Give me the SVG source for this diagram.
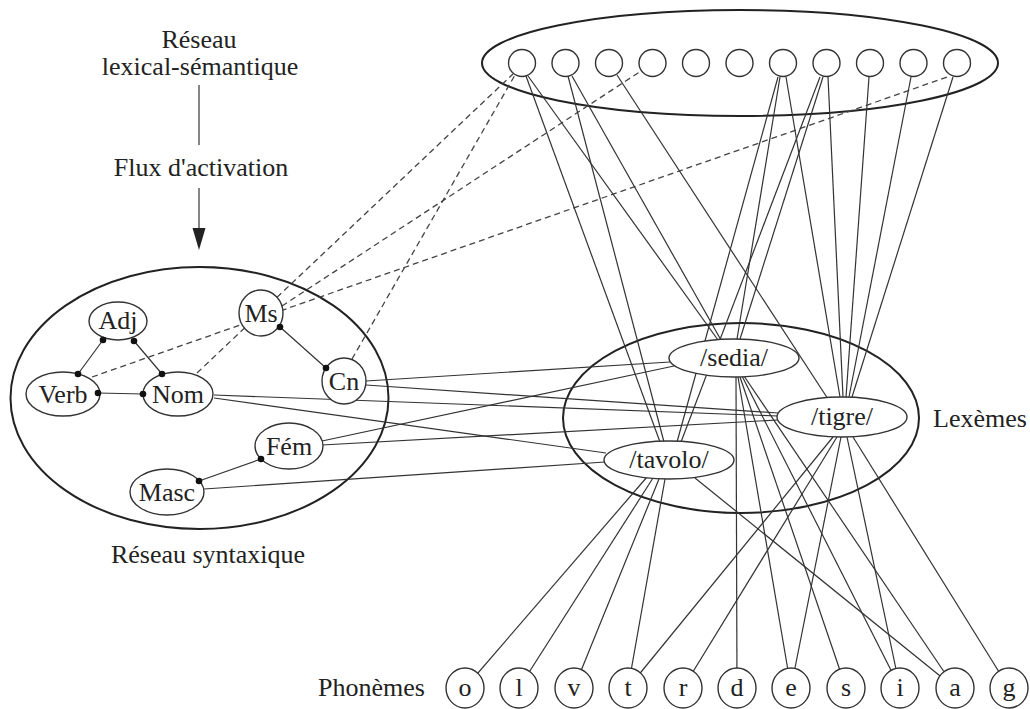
<svg xmlns="http://www.w3.org/2000/svg" width="1030" height="709" viewBox="0 0 1030 709">
<defs>
<style>
.ln{stroke:#333;stroke-width:1.2;fill:none}
.dash{stroke:#444;stroke-width:1.3;stroke-dasharray:6 4;fill:none}
.big{fill:none;stroke:#222;stroke-width:2}
.node{fill:#fff;stroke:#333;stroke-width:1.4}
.t{font-family:"Liberation Serif","Times New Roman",serif;font-size:26px;fill:#222;text-anchor:middle}
.dot{fill:#111}
</style>
</defs>
<rect width="1030" height="709" fill="#fff"/>

<g id="labels">
<text class="t" x="199" y="48">Réseau</text>
<text class="t" x="200" y="75">lexical-sémantique</text>
<line x1="199" y1="85" x2="199" y2="145" class="ln"/>
<text class="t" x="201" y="176">Flux d'activation</text>
<line x1="199" y1="188" x2="199" y2="229" class="ln"/>
<path d="M192.5,228 L205.5,228 L199,250 Z" fill="#222"/>
<text class="t" x="208" y="563">Réseau syntaxique</text>
<text class="t" x="933" y="427" style="text-anchor:start">Lexèmes</text>
<text class="t" x="318" y="696" style="text-anchor:start">Phonèmes</text>
</g>

<g id="containers">
<ellipse class="big" cx="740" cy="63" rx="258" ry="53"/>
<ellipse class="big" cx="199.5" cy="398" rx="189" ry="131"/>
<ellipse class="big" cx="741" cy="418" rx="178" ry="95"/>
</g>

<g id="connectors">
<path class="ln" d="M103,340 L78,374"/>
<path class="ln" d="M134,341 L162,374"/>
<path class="ln" d="M98,393 L143,394"/>
<path class="ln" d="M280,327 L326,368"/>
<path class="ln" d="M261,459 L199,481"/>
<path class="dash" d="M197,373 L513,74"/>
<path class="dash" d="M92,377 L950,76"/>
<path class="dash" d="M282,306 L641,71"/>
<path class="dash" d="M352,359 L515,75"/>
<path class="ln" d="M366,381 L670,362"/>
<path class="ln" d="M366,385 L778,413"/>
<path class="ln" d="M214,395 L778,416"/>
<path class="ln" d="M214,398 L606,453"/>
<path class="ln" d="M322,441 L674,366"/>
<path class="ln" d="M322,445 L778,420"/>
<path class="ln" d="M204,489 L605,462"/>
<path class="ln" d="M528,76 L718,340"/>
<path class="ln" d="M526,76 L660,442"/>
<path class="ln" d="M572,76 L721,340"/>
<path class="ln" d="M568,76 L664,442"/>
<path class="ln" d="M617,75 L828,399"/>
<path class="ln" d="M780,77 L737,339"/>
<path class="ln" d="M778,77 L677,442"/>
<path class="ln" d="M786,77 L840,397"/>
<path class="ln" d="M823,77 L740,339"/>
<path class="ln" d="M820,77 L681,442"/>
<path class="ln" d="M828,77 L843,397"/>
<path class="ln" d="M869,77 L846,397"/>
<path class="ln" d="M911,77 L849,397"/>
<path class="ln" d="M953,77 L852,397"/>
<path class="ln" d="M647,477 L465,688"/>
<path class="ln" d="M653,478 L519,688"/>
<path class="ln" d="M659,479 L574,688"/>
<path class="ln" d="M665,479 L628,688"/>
<path class="ln" d="M695,478 L955,688"/>
<path class="ln" d="M736,377 L737,688"/>
<path class="ln" d="M738,377 L791,688"/>
<path class="ln" d="M740,377 L846,688"/>
<path class="ln" d="M742,376 L900,688"/>
<path class="ln" d="M744,376 L955,688"/>
<path class="ln" d="M833,437 L628,688"/>
<path class="ln" d="M837,437 L683,688"/>
<path class="ln" d="M841,437 L791,688"/>
<path class="ln" d="M847,437 L900,688"/>
<path class="ln" d="M853,437 L1009,688"/>
</g>

<g id="semantic">
<circle class="node" cx="522" cy="63" r="13.5"/>
<circle class="node" cx="565.5" cy="63" r="13.5"/>
<circle class="node" cx="609" cy="63" r="13.5"/>
<circle class="node" cx="652.5" cy="63" r="13.5"/>
<circle class="node" cx="696" cy="63" r="13.5"/>
<circle class="node" cx="739.5" cy="63" r="13.5"/>
<circle class="node" cx="783" cy="63" r="13.5"/>
<circle class="node" cx="826.5" cy="63" r="13.5"/>
<circle class="node" cx="870" cy="63" r="13.5"/>
<circle class="node" cx="913.5" cy="63" r="13.5"/>
<circle class="node" cx="957" cy="63" r="13.5"/>
</g>

<g id="adj"><ellipse class="node" cx="118" cy="321" rx="29" ry="19"/><text class="t" x="118" y="329">Adj</text></g>
<g id="verb"><ellipse class="node" cx="63" cy="394" rx="37" ry="22"/><text class="t" x="63" y="403">Verb</text></g>
<g id="nom"><ellipse class="node" cx="178" cy="394" rx="35" ry="22"/><text class="t" x="178" y="403">Nom</text></g>
<g id="ms"><ellipse class="node" cx="261" cy="313" rx="22" ry="23"/><text class="t" x="261" y="322">Ms</text></g>
<g id="cn"><ellipse class="node" cx="344" cy="381" rx="22" ry="23"/><text class="t" x="344" y="390">Cn</text></g>
<g id="fem"><ellipse class="node" cx="289" cy="446" rx="34" ry="23"/><text class="t" x="289" y="455">Fém</text></g>
<g id="masc"><ellipse class="node" cx="167" cy="492" rx="37" ry="23"/><text class="t" x="167" y="501">Masc</text></g>

<g id="dots">
<circle class="dot" cx="103" cy="340" r="3.3"/>
<circle class="dot" cx="134" cy="341" r="3.3"/>
<circle class="dot" cx="78" cy="374" r="3.3"/>
<circle class="dot" cx="98" cy="393" r="3.3"/>
<circle class="dot" cx="143" cy="394" r="3.3"/>
<circle class="dot" cx="162" cy="374" r="3.3"/>
<circle class="dot" cx="280" cy="327" r="3.3"/>
<circle class="dot" cx="326" cy="368" r="3.3"/>
<circle class="dot" cx="261" cy="459" r="3.3"/>
<circle class="dot" cx="199" cy="481" r="3.3"/>
</g>

<g id="sedia"><ellipse class="node" cx="734" cy="358" rx="65" ry="19"/><text class="t" x="734" y="366">/sedia/</text></g>
<g id="tigre"><ellipse class="node" cx="842" cy="417" rx="65" ry="20"/><text class="t" x="842" y="425">/tigre/</text></g>
<g id="tavolo"><ellipse class="node" cx="669" cy="460" rx="65" ry="19"/><text class="t" x="669" y="468">/tavolo/</text></g>

<g id="ph-o"><ellipse class="node" cx="465" cy="688" rx="19" ry="20"/><text class="t" x="465" y="696">o</text></g>
<g id="ph-l"><ellipse class="node" cx="519" cy="688" rx="19" ry="20"/><text class="t" x="519" y="696">l</text></g>
<g id="ph-v"><ellipse class="node" cx="574" cy="688" rx="19" ry="20"/><text class="t" x="574" y="696">v</text></g>
<g id="ph-t"><ellipse class="node" cx="628" cy="688" rx="19" ry="20"/><text class="t" x="628" y="696">t</text></g>
<g id="ph-r"><ellipse class="node" cx="683" cy="688" rx="19" ry="20"/><text class="t" x="683" y="696">r</text></g>
<g id="ph-d"><ellipse class="node" cx="737" cy="688" rx="19" ry="20"/><text class="t" x="737" y="696">d</text></g>
<g id="ph-e"><ellipse class="node" cx="791" cy="688" rx="19" ry="20"/><text class="t" x="791" y="696">e</text></g>
<g id="ph-s"><ellipse class="node" cx="846" cy="688" rx="19" ry="20"/><text class="t" x="846" y="696">s</text></g>
<g id="ph-i"><ellipse class="node" cx="900" cy="688" rx="19" ry="20"/><text class="t" x="900" y="696">i</text></g>
<g id="ph-a"><ellipse class="node" cx="955" cy="688" rx="19" ry="20"/><text class="t" x="955" y="696">a</text></g>
<g id="ph-g"><ellipse class="node" cx="1009" cy="688" rx="19" ry="20"/><text class="t" x="1009" y="696">g</text></g>
</svg>
